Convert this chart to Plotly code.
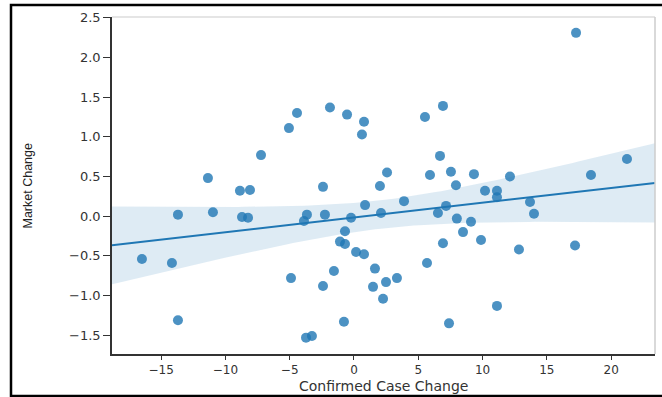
import numpy as np
import plotly.graph_objects as go

# Data
case_change = [17.27, 6.92, -4.43, -1.87, -0.54, 0.78, -5.06, 0.62, 5.52, -7.23,
               6.69, -11.36, -8.87, -8.09, -2.41, 2.02, 2.57, 5.91, 7.54, 9.33,
               7.93, 12.13, 18.43, 21.23, 3.89, 0.86, 10.19, 11.12, 11.12, 13.69,
               14.00, 7.16, 6.53, -13.69, -10.97, -8.71, -8.24, -3.66, -3.89, -2.26,
               -0.23, 2.10, 8.00, 9.10, -0.70, 8.48, 9.88, 6.92, -1.09, -0.70,
               0.16, 0.78, 12.83, 17.19, -16.49, -14.16, 5.68, -1.56, 1.63, -4.90,
               3.34, 2.49, -2.41, 1.48, 2.26, 11.12, -13.69, -0.78, 7.39, -3.73,
               -3.27]
market_change = [2.31, 1.39, 1.30, 1.37, 1.28, 1.19, 1.11, 1.03, 1.25, 0.77,
                 0.76, 0.48, 0.32, 0.33, 0.37, 0.38, 0.55, 0.52, 0.56, 0.53,
                 0.39, 0.50, 0.52, 0.72, 0.19, 0.14, 0.32, 0.32, 0.24, 0.18,
                 0.03, 0.13, 0.04, 0.02, 0.05, -0.01, -0.02, 0.02, -0.06, 0.02,
                 -0.02, 0.04, -0.03, -0.07, -0.19, -0.20, -0.30, -0.34, -0.32, -0.35,
                 -0.45, -0.48, -0.42, -0.37, -0.54, -0.59, -0.59, -0.69, -0.66, -0.78,
                 -0.78, -0.83, -0.88, -0.89, -1.04, -1.13, -1.31, -1.33, -1.35, -1.53,
                 -1.51]

x_ticks = [-15, -10, -5, 0, 5, 10, 15, 20]
x_tick_labels = ["\u221215", "\u221210", "\u22125", "0", "5", "10", "15", "20"]
y_ticks = [-1.5, -1.0, -0.5, 0.0, 0.5, 1.0, 1.5, 2.0, 2.5]
y_tick_labels = ["\u22121.5", "\u22121.0", "\u22120.5", "0.0", "0.5", "1.0", "1.5", "2.0", "2.5"]

x_title = "Confirmed Case Change"
y_title = "Market Change"

x_range = [-18.82, 23.41]
y_range = [-1.736, 2.51]

# Linear regression with 95% confidence band
x = np.array(case_change)
y = np.array(market_change)
n = len(x)
slope, intercept = np.polyfit(x, y, 1)
xs = np.linspace(x_range[0], x_range[1], 100)
ys = intercept + slope * xs
resid = y - (intercept + slope * x)
s = np.sqrt(np.sum(resid ** 2) / (n - 2))
sxx = np.sum((x - x.mean()) ** 2)
tval = 1.995
half = tval * s * np.sqrt(1.0 / n + (xs - x.mean()) ** 2 / sxx)

blue = "#1f77b4"
fig = go.Figure()
fig.add_trace(go.Scatter(
    x=np.concatenate([xs, xs[::-1]]),
    y=np.concatenate([ys + half, (ys - half)[::-1]]),
    fill="toself", fillcolor="rgba(31,119,180,0.15)",
    line=dict(width=0), hoverinfo="skip", showlegend=False))
fig.add_trace(go.Scatter(
    x=case_change, y=market_change, mode="markers",
    marker=dict(color=blue, size=10, opacity=0.8, line=dict(width=0)),
    showlegend=False))
fig.add_trace(go.Scatter(
    x=xs, y=ys, mode="lines", line=dict(color=blue, width=2), showlegend=False))

axis_common = dict(
    showgrid=False, zeroline=False, ticks="outside", tickwidth=1.2,
    tickcolor="#333333", linecolor="#333333", linewidth=1.5, showline=True,
    automargin=False,
)
fig.update_xaxes(range=x_range, tickvals=x_ticks, ticktext=x_tick_labels, ticklen=4,
                 tickfont=dict(family="DejaVu Sans", size=12, color="#333333"),
                 **axis_common)
fig.update_yaxes(range=y_range, tickvals=y_ticks, ticktext=y_tick_labels, ticklen=7,
                 tickfont=dict(family="DejaVu Sans", size=13, color="#333333"),
                 **axis_common)

fig.update_layout(
    width=662, height=397,
    margin=dict(l=112, r=7, t=17, b=43),
    paper_bgcolor="white", plot_bgcolor="white",
    annotations=[
        dict(text=x_title, xref="paper", yref="paper", x=0.5, y=-0.095,
             xanchor="center", yanchor="middle", showarrow=False,
             font=dict(family="DejaVu Sans", size=14, color="#333333")),
        dict(text=y_title, xref="paper", yref="paper", x=-0.1547, y=0.5,
             xanchor="center", yanchor="middle", showarrow=False, textangle=-90,
             font=dict(family="Liberation Sans", size=12.5, color="#222222")),
    ],
    shapes=[
        # light top/right spines
        dict(type="line", xref="paper", yref="paper", x0=0, x1=1, y0=1, y1=1,
             line=dict(color="#dddddd", width=1.5)),
        dict(type="line", xref="paper", yref="paper", x0=1, x1=1, y0=0, y1=1,
             line=dict(color="#cccccc", width=1.5)),
        # outer black frame of the screenshot
        dict(type="rect", xref="paper", yref="paper",
             x0=-0.186, x1=1.03, y0=-0.1246, y1=1.0356,
             line=dict(color="black", width=2.5)),
    ],
)

fig.write_html("out.html")
